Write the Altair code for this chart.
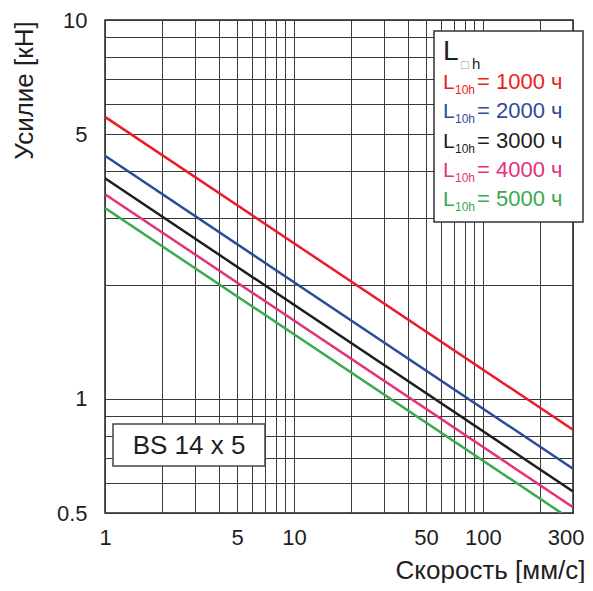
import altair as alt
import pandas as pd

# ---- data ----
speeds = [1, 300]
f_1000 = [5.55, 0.829]
f_2000 = [4.38, 0.654]
f_3000 = [3.82, 0.570]
f_4000 = [3.47, 0.518]
f_5000 = [3.19, 0.477]
series_names = ["1000", "2000", "3000", "4000", "5000"]
series_colors = ["#ED1C24", "#2E4B9B", "#1E1E1E", "#E5307A", "#3AAA4A"]

x_grid = [1, 2, 3, 4, 5, 6, 7, 8, 9, 10, 20, 30, 40, 50, 60, 70, 80, 90, 100, 200, 300]
y_grid = [0.5, 0.6, 0.7, 0.8, 0.9, 1, 2, 3, 4, 5, 6, 7, 8, 9, 10]
x_labels = [1, 5, 10, 50, 100, 300]
y_labels = [0.5, 1, 5, 10]

FONT = "Liberation Sans"

rows = []
for name, vals in zip(series_names, [f_1000, f_2000, f_3000, f_4000, f_5000]):
    for s, f in zip(speeds, vals):
        rows.append({"speed": s, "force": f, "series": name})
df = pd.DataFrame(rows)

W, H = 468, 493

xlab = "[" + ",".join(str(v) for v in x_labels) + "]"
ylab = "[" + ",".join(str(v) for v in y_labels) + "]"
x_last = x_labels[-1]

lines = alt.Chart(df).mark_line(strokeWidth=2.5, clip=True).encode(
    x=alt.X("speed:Q",
            scale=alt.Scale(type="log", domain=[1, 300], nice=False),
            axis=alt.Axis(values=x_grid, grid=True, ticks=False, domain=False,
                          labelExpr=f"indexof({xlab}, datum.value) >= 0 ? format(datum.value, '~g') : ''",
                          labelOverlap=False, labelFlush=False, labelPadding=24,
                          labelBaseline="middle",
                          labelAlign={"expr": f"datum.value === {x_last} ? 'right' : 'center'"},
                          labelOffset={"expr": f"datum.value === {x_last} ? 11 : 0"},
                          title="Скорость [мм/с]", titleX=480, titleY=65,
                          titleAlign="right", titleBaseline="alphabetic")),
    y=alt.Y("force:Q",
            scale=alt.Scale(type="log", domain=[0.5, 10], nice=False),
            axis=alt.Axis(values=y_grid, grid=True, ticks=False, domain=False,
                          labelExpr=f"indexof({ylab}, datum.value) >= 0 ? format(datum.value, '~g') : ''",
                          labelOverlap=False, labelPadding=18,
                          title="Усилие [кН]", titleX=-81, titleY=70, titleAngle=-90,
                          titleAlign="center", titleBaseline="middle")),
    color=alt.Color("series:N", scale=alt.Scale(domain=series_names, range=series_colors),
                    legend=None),
    detail="series:N",
)

one = pd.DataFrame({"a": [0]})

legend_box = alt.Chart(one).mark_rect(fill="white", stroke="#333333", strokeWidth=1.5).encode(
    x=alt.value(329), x2=alt.value(478), y=alt.value(11), y2=alt.value(202))

layers = [lines, legend_box]

def txt(text, x, y, size, color, baseline="alphabetic", align="left"):
    return alt.Chart(one).mark_text(font=FONT, fontSize=size, color=color,
                                    align=align, baseline=baseline).encode(
        x=alt.value(x), y=alt.value(y), text=alt.value(text))

layers.append(txt("L", 338, 40, 28, "#1E1E1E"))
layers.append(txt("□", 356, 49, 13, "#9A9A9A"))
layers.append(txt("h", 367, 49, 15, "#1E1E1E"))

for i, (name, col) in enumerate(zip(series_names, series_colors)):
    yb = 69.3 + i * 29.1
    layers.append(txt("L", 338, yb, 21, col))
    layers.append(txt("10h", 350, yb + 5, 12, col))
    layers.append(txt(f"= {name} ч", 372, yb, 22, col))

bs_box = alt.Chart(one).mark_rect(fill="white", stroke="#444444", strokeWidth=1.5).encode(
    x=alt.value(8), x2=alt.value(160), y=alt.value(404), y2=alt.value(446))
layers.append(bs_box)
layers.append(txt("BS 14 x 5", 84, 426, 26, "#1E1E1E", baseline="middle", align="center"))

chart = alt.layer(*layers).properties(
    width=W, height=H,
    autosize="none",
    padding={"left": 97, "top": 12, "right": 12, "bottom": 70},
).configure_view(
    stroke="#222222", strokeWidth=1.5
).configure_axis(
    gridColor="#3A3A3A", gridWidth=1, gridOpacity=1,
    labelFont=FONT, labelFontSize=22, labelColor="#1E1E1E",
    titleFont=FONT, titleFontSize=26, titleFontWeight="normal", titleColor="#1E1E1E",
)

chart.save("out.html", embed_options={"renderer": "svg", "actions": False})
